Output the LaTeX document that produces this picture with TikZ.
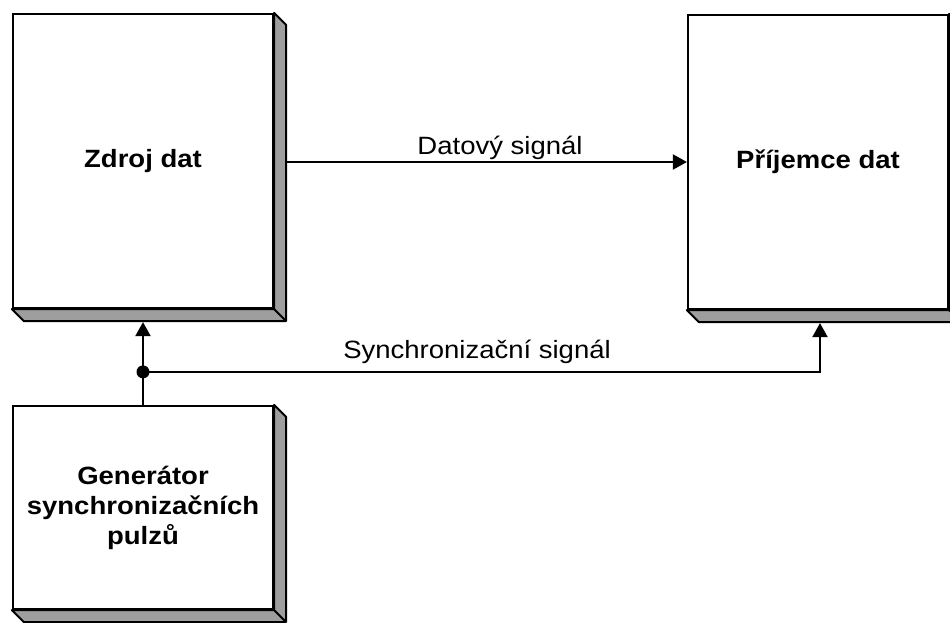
\documentclass[tikz,border=0pt]{standalone}
\usepackage{fontspec}
\setmainfont{Liberation Sans}[FakeStretch=1.1]
\usetikzlibrary{arrows.meta,calc}

\tikzset{
  block/.style={draw, line width=2.2pt, fill=white, minimum width=260,
    align=center, font=\fontsize{25}{30}\selectfont\bfseries, inner sep=0pt},
  slab/.style={fill=black!38, draw=black, line width=2pt, line join=round},
  wire/.style={line width=2pt},
  sig/.style={wire, -{Triangle[length=14pt,width=15pt]}},
  lbl/.style={font=\fontsize{25}{30}\selectfont, inner sep=0pt},
}

% raised edge along the right and bottom sides of a block
\newcommand\raisededge[1]{%
  \path[slab] (#1.north east) -- ++(12,12) -- ($(#1.south east)+(12,12)$)
    -- ($(#1.south west)+(12,12)$) -- (#1.south west) -- (#1.south east) -- cycle;
  \draw[black, line width=2pt] (#1.south east) -- ++(12,12);
}

\begin{document}
\begin{tikzpicture}[x=1pt, y=-1pt]
  \useasboundingbox (0,0) rectangle (950,623);
  \clip (0,0) rectangle (950,623);

  % blocks
  \node[block, minimum height=294] (src) at (143,161) {Zdroj dat};
  \node[block, minimum height=294] (dst) at (818,162) {Příjemce dat};
  \node[block, minimum height=203] (gen) at (143,507.5)
       {Generátor\\synchronizačních\\pulzů};
  \raisededge{src}
  \raisededge{dst}
  \raisededge{gen}

  % connection points on the raised edges
  \coordinate (srcR) at ($(src.east)+(12,1)$);
  \coordinate (srcB) at ($(src.south)+(0,13)$);
  \coordinate (dstB) at ($(dst.south)+(2,13)$);
  \coordinate (fork) at ($(gen.north)+(0,-33)$);
  \coordinate (turn) at (fork -| dstB);

  % data signal
  \draw[sig] (srcR) -- (srcR -| dst.west);
  \node[lbl] (datalbl) at (500,148) {Datový signál};

  % synchronisation signal
  \draw[sig] (gen.north) -- (srcB);
  \draw[sig, line join=miter] (fork) -- (turn) -- (dstB);
  \fill (fork) circle (6.5);
  \node[lbl] (synclbl) at (477,352) {Synchronizační signál};
\end{tikzpicture}
\end{document}
